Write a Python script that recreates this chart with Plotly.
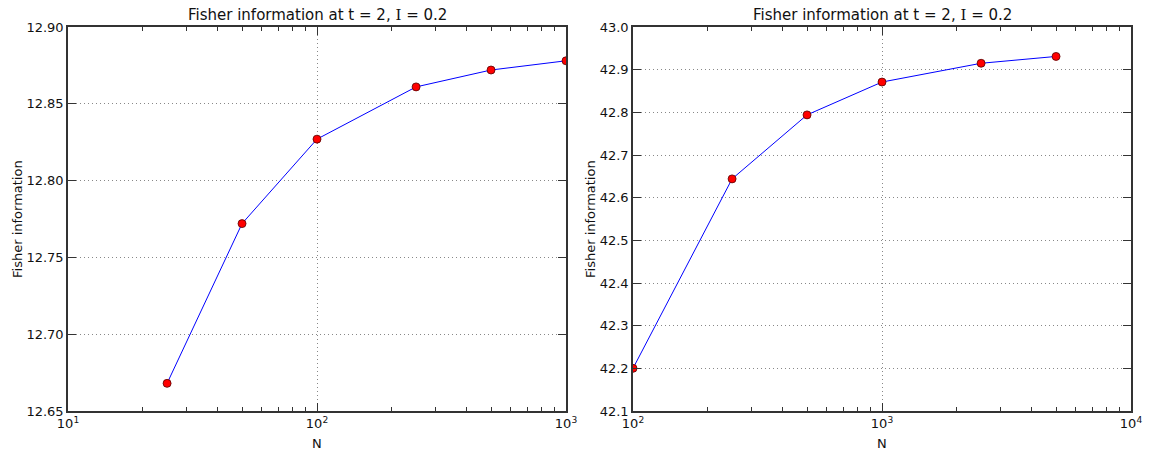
import plotly.graph_objects as go
import numpy as np

# Data
left_N = [25, 50, 100, 250, 500, 1000]
left_F = [12.668, 12.772, 12.827, 12.861, 12.872, 12.878]
right_N = [100, 250, 500, 1000, 2500, 5000]
right_F = [42.200, 42.644, 42.794, 42.871, 42.915, 42.931]

title_text = "Fisher information at t = 2, <span style='font-family:DejaVu Serif'>I</span> = 0.2"
left_xticks = [10, 100, 1000]
left_xticktext = ["10<sup>1</sup>", "10<sup>2</sup>", "10<sup>3</sup>"]
right_xticks = [100, 1000, 10000]
right_xticktext = ["10<sup>2</sup>", "10<sup>3</sup>", "10<sup>4</sup>"]
left_yticks = [12.65, 12.70, 12.75, 12.80, 12.85, 12.90]
right_yticks = [42.1, 42.2, 42.3, 42.4, 42.5, 42.6, 42.7, 42.8, 42.9, 43.0]

FONT = "DejaVu Sans"

fig = go.Figure()

for N, F, xa, ya in [(left_N, left_F, "x", "y"), (right_N, right_F, "x2", "y2")]:
    fig.add_trace(go.Scatter(
        x=N, y=F, mode="lines+markers", xaxis=xa, yaxis=ya,
        line=dict(color="#0000ff", width=1),
        marker=dict(color="#ff0000", size=8, line=dict(color="#550000", width=0.8)),
        showlegend=False,
    ))

def minor_vals(lo_exp, hi_exp):
    vals = []
    for e in range(lo_exp, hi_exp):
        for m in range(2, 10):
            vals.append(m * 10 ** e)
    return vals

axis_common = dict(
    showline=True, linecolor="#333333", linewidth=1.5, mirror="ticks",
    ticks="inside", ticklen=8, tickcolor="#333333", automargin=False,
    showgrid=True, gridcolor="#888888", griddash="1px,3px", gridwidth=1,
    zeroline=False, tickfont=dict(family=FONT, size=13, color="#111111"),
)

LX = [68 / 1150, 566 / 1150]
RX = [633 / 1150, 1131 / 1150]
YD = [(452 - 411) / 452, (452 - 27) / 452]

fig.update_layout(
    width=1150, height=452,
    margin=dict(l=0, r=0, t=0, b=0),
    paper_bgcolor="white", plot_bgcolor="white",
    font=dict(family=FONT, size=13, color="#111111"),
    xaxis=dict(domain=LX, type="log", range=[1, 3],
               tickvals=left_xticks, ticktext=left_xticktext, anchor="y",
               minor=dict(tickvals=minor_vals(1, 3), ticks="inside", ticklen=4,
                          tickcolor="#333333", showgrid=False),
               **axis_common),
    yaxis=dict(domain=YD, range=[12.65, 12.90], anchor="x",
               tickvals=left_yticks, tickformat=".2f", **axis_common),
    xaxis2=dict(domain=RX, type="log", range=[2, 4],
                tickvals=right_xticks, ticktext=right_xticktext, anchor="y2",
                minor=dict(tickvals=minor_vals(2, 4), ticks="inside", ticklen=4,
                           tickcolor="#333333", showgrid=False),
                **axis_common),
    yaxis2=dict(domain=YD, range=[42.1, 43.0], anchor="x2",
                tickvals=right_yticks, tickformat=".1f", **axis_common),
)

annotations = [
    dict(text=title_text, x=sum(LX) / 2, y=15, font=dict(size=15)),
    dict(text=title_text, x=sum(RX) / 2, y=15, font=dict(size=15)),
    dict(text="N", x=sum(LX) / 2, y=443, font=dict(size=13)),
    dict(text="N", x=sum(RX) / 2, y=443, font=dict(size=13)),
]
for a in annotations:
    fig.add_annotation(text=a["text"], xref="paper", yref="paper", x=a["x"],
                       y=1 - a["y"] / 452, showarrow=False, xanchor="center",
                       yanchor="middle", font=dict(family=FONT, color="#111111", **a["font"]))
for xp in [17, 590]:
    fig.add_annotation(text="Fisher information", xref="paper", yref="paper",
                       x=xp / 1150, y=1 - 219 / 452, showarrow=False, textangle=-90,
                       xanchor="center", yanchor="middle",
                       font=dict(family=FONT, size=13, color="#111111"))

fig.write_html("out.html", config={"displayModeBar": False},
               post_script="document.body.style.margin='0';document.body.style.overflow='hidden';")
